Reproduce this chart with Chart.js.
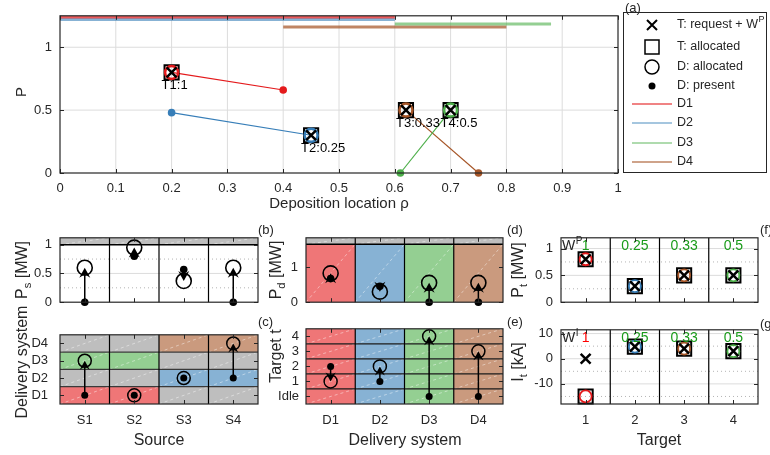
<!DOCTYPE html>
<html>
<head>
<meta charset="utf-8">
<script src="https://cdn.jsdelivr.net/npm/chart.js@4"></script>
<style>
body { margin: 0; background: #fff; }
#fig { position: relative; width: 770px; height: 455px; overflow: hidden; background: #fff;
       font-family: "Liberation Sans", Arial, sans-serif; color: #262626; }
#fig canvas { position: absolute; }
.lbl { position: absolute; white-space: nowrap; line-height: 1; }
.rot { transform: translate(-50%, -50%) rotate(-90deg); }
.ctr { transform: translate(-50%, -50%); }
.lft { transform: translate(0, -50%); }
.lbl sub { font-size: 0.7em; vertical-align: -0.4em; line-height: 0; }
</style>
</head>
<body>
<div id="fig"></div>
<script>
// ---- data ----
const deliveryNames = ['D1', 'D2', 'D3', 'D4'];
const sourceNames = ['S1', 'S2', 'S3', 'S4'];
const targetNames = ['T1', 'T2', 'T3', 'T4'];
const targetNumbers = ['1', '2', '3', '4'];
const targetAxisLabels = ['Idle', '1', '2', '3', '4'];
const targetWeightP = ['1', '0.25', '0.33', '0.5'];
const targetWeightI = ['1', '0.25', '0.33', '0.5'];

// (a) power vs deposition location
const rhoTicks = [0, 0.1, 0.2, 0.3, 0.4, 0.5, 0.6, 0.7, 0.8, 0.9, 1];
const pTicksA = [0, 0.5, 1];
const targetRho = [0.2, 0.45, 0.62, 0.7];
const deliveryRho = [0.4, 0.2, 0.61, 0.75];
const deliveryP = [0.66, 0.48, 0, 0];
const deliveryTarget = [1, 2, 4, 3];          // target allocated to each delivery system
const reachFrom = [0, 0, 0.6, 0.4];
const reachTo = [0.6, 0.6, 0.88, 0.8];
const reachLevel = [1.24, 1.22, 1.185, 1.16];

// (b) (c) sources
const sourceLinks = [[1, 3], [1, 3], [2, 4], [2, 4]];
const sourcePowerNow = [0, 0.8, 0.57, 0];
const sourcePowerAlloc = [0.6, 0.95, 0.37, 0.6];
const sourceDeliveryNow = [1, 1, 2, 2];
const sourceDeliveryAlloc = [3, 1, 2, 4];
const sourcePowerLimit = 1;

// (d) (e) delivery systems
const deliveryPowerNow = [0.67, 0.45, 0, 0];
const deliveryPowerAlloc = [0.82, 0.3, 0.55, 0.55];
const deliveryTargetNow = [2, 1, 0, 0];
const deliveryPowerLimit = 1.65;

// (f) (g) targets
const targetPowerRequest = [0.8, 0.3, 0.5, 0.5];
const targetPowerAlloc = [0.8, 0.3, 0.5, 0.5];
const targetCurrentRequest = [0, 4.8, 4, 3];
const targetCurrentAlloc = [-15, 4.8, 4, 3];

// ---- styles ----
const FONT = '"Liberation Sans", Arial, sans-serif';
const INK = '#262626';
const lineCol = ['#e41a1c', '#377eb8', '#4daf4a', '#a65628'];
const fillCol = ['#ef7677', '#87b2d4', '#94cf92', '#ca9a7e'];
const reachCol = ['rgba(228,26,28,0.72)', 'rgba(55,126,184,0.6)', 'rgba(77,175,74,0.6)', 'rgba(166,86,40,0.72)'];
const GREY = '#bebebe';
const GRID = '#dcdcdc';
const MINOR = '#b4b4b4';
const GREEN = '#1a9c1a';
const RED = '#ff0000';

Chart.defaults.font.family = FONT;
Chart.defaults.font.size = 13;
Chart.defaults.color = INK;

const fig = document.getElementById('fig');
const cats = [1, 2, 3, 4];
const targetColor = targetNames.map((t, i) => lineCol[deliveryTarget.indexOf(i + 1)]);

function pts(xs, ys) { return xs.map((x, i) => ({x: x, y: ys[i]})); }

function markers(data, style, r, bw, color, fill) {
    return {
        data: data, showLine: false, clip: false,
        pointStyle: style, pointRadius: r, pointHoverRadius: r,
        pointBorderWidth: bw, pointBorderColor: color,
        pointBackgroundColor: fill || 'rgba(0,0,0,0)'
    };
}

function lin(min, max, ticks, labels, pad, show) {
    return {
        type: 'linear', min: min, max: max,
        grid: {display: false, drawTicks: false, tickLength: 0}, border: {display: false},
        afterBuildTicks: s => { s.ticks = ticks.map(v => ({value: v})); },
        ticks: {
            display: show !== false, padding: pad, color: INK, font: {size: 13},
            autoSkip: false, maxRotation: 0,
            callback: (v, i) => labels[i]
        }
    };
}

// ---- drawing helpers ----
function hline(c, v, color, w, dash) {
    const ctx = c.ctx, a = c.chartArea, Y = c.scales.y.getPixelForValue(v);
    ctx.save(); ctx.strokeStyle = color; ctx.lineWidth = w; ctx.setLineDash(dash || []);
    ctx.beginPath(); ctx.moveTo(a.left, Y); ctx.lineTo(a.right, Y); ctx.stroke(); ctx.restore();
}
function vline(c, v, color, w, dash) {
    const ctx = c.ctx, a = c.chartArea, X = c.scales.x.getPixelForValue(v);
    ctx.save(); ctx.strokeStyle = color; ctx.lineWidth = w; ctx.setLineDash(dash || []);
    ctx.beginPath(); ctx.moveTo(X, a.top); ctx.lineTo(X, a.bottom); ctx.stroke(); ctx.restore();
}
function cell(c, x0, x1, y0, y1, color) {
    const ctx = c.ctx, a = c.chartArea, sx = c.scales.x, sy = c.scales.y;
    const l = Math.max(a.left, sx.getPixelForValue(x0)), r = Math.min(a.right, sx.getPixelForValue(x1));
    const b = Math.min(a.bottom, sy.getPixelForValue(y0)), t = Math.max(a.top, sy.getPixelForValue(y1));
    ctx.save();
    ctx.fillStyle = color; ctx.fillRect(l, t, r - l, b - t);
    ctx.strokeStyle = 'rgba(255,255,255,0.55)'; ctx.lineWidth = 0.8; ctx.setLineDash([3, 3]);
    ctx.beginPath(); ctx.moveTo(l, b); ctx.lineTo(r, t); ctx.stroke();
    ctx.restore();
}
function arrows(c, from, to, hw, len) {
    const ctx = c.ctx, sx = c.scales.x, sy = c.scales.y;
    ctx.save(); ctx.strokeStyle = '#000'; ctx.fillStyle = '#000'; ctx.lineWidth = 1.5;
    cats.forEach((k, i) => {
        if (from[i] === to[i]) return;
        const X = sx.getPixelForValue(k), Y0 = sy.getPixelForValue(from[i]), Y1 = sy.getPixelForValue(to[i]);
        const d = Math.sign(Y1 - Y0);
        ctx.beginPath(); ctx.moveTo(X, Y0); ctx.lineTo(X, Y1 - d * len * 0.6); ctx.stroke();
        ctx.beginPath();
        ctx.moveTo(X, Y1);
        ctx.lineTo(X - hw, Y1 - d * len);
        ctx.lineTo(X, Y1 - d * len * 0.65);
        ctx.lineTo(X + hw, Y1 - d * len);
        ctx.closePath(); ctx.fill();
    });
    ctx.restore();
}
function weightText(c, sym, weights, colors) {
    const ctx = c.ctx, a = c.chartArea;
    const y = a.top + 8;
    ctx.save(); ctx.textBaseline = 'middle';
    ctx.font = '14px ' + FONT; ctx.fillStyle = INK; ctx.textAlign = 'left';
    ctx.fillText('W', a.left + 1, y);
    const w = ctx.measureText('W').width;
    ctx.font = '10px ' + FONT; ctx.fillText(sym, a.left + 1.5 + w, y - 5);
    ctx.font = '14px ' + FONT; ctx.textAlign = 'center';
    weights.forEach((t, i) => { ctx.fillStyle = colors[i]; ctx.fillText(t, c.scales.x.getPixelForValue(i + 1), y); });
    ctx.restore();
}

const framePlugin = {
    id: 'frame',
    afterDraw(chart) {
        const ctx = chart.ctx, a = chart.chartArea, sx = chart.scales.x, sy = chart.scales.y;
        ctx.save(); ctx.strokeStyle = INK; ctx.lineWidth = 1;
        ctx.beginPath();
        sx.ticks.forEach(t => {
            const X = Math.round(sx.getPixelForValue(t.value)) + 0.5;
            ctx.moveTo(X, a.bottom); ctx.lineTo(X, a.bottom - 4);
            ctx.moveTo(X, a.top); ctx.lineTo(X, a.top + 4);
        });
        sy.ticks.forEach(t => {
            const Y = Math.round(sy.getPixelForValue(t.value)) + 0.5;
            ctx.moveTo(a.left, Y); ctx.lineTo(a.left + 4, Y);
            ctx.moveTo(a.right, Y); ctx.lineTo(a.right - 4, Y);
        });
        ctx.stroke();
        ctx.lineWidth = 1.2;
        ctx.strokeRect(a.left, a.top, a.right - a.left, a.bottom - a.top);
        ctx.restore();
    }
};

function makeChart(box, m, datasets, xScale, yScale, deco) {
    const cv = document.createElement('canvas');
    const W = box.w + m.l + m.r, H = box.h + m.t + m.b;
    cv.width = W; cv.height = H;
    Object.assign(cv.style, {left: (box.l - m.l) + 'px', top: (box.t - m.t) + 'px', width: W + 'px', height: H + 'px'});
    fig.appendChild(cv);
    xScale.afterFit = s => { s.height = m.b; };
    yScale.afterFit = s => { s.width = m.l; };
    return new Chart(cv, {
        type: 'scatter',
        data: {datasets: datasets},
        options: {
            responsive: false, animation: false, devicePixelRatio: 1, events: [],
            layout: {padding: {left: 0, top: m.t, right: m.r, bottom: 0}, autoPadding: false},
            plugins: {legend: {display: false}, tooltip: {enabled: false}},
            scales: {x: xScale, y: yScale}
        },
        plugins: [{
            id: 'deco',
            beforeDatasetsDraw(c) { if (deco.before) deco.before(c); },
            afterDatasetsDraw(c) { if (deco.after) deco.after(c); }
        }, framePlugin]
    });
}

function label(html, x, y, cls, size) {
    const d = document.createElement('div');
    d.className = 'lbl ' + cls;
    d.innerHTML = html;
    d.style.left = x + 'px'; d.style.top = y + 'px'; d.style.fontSize = size + 'px';
    fig.appendChild(d);
}

// ---- (a) ----
const dsA = [
    markers(pts(targetRho, targetPowerRequest), 'crossRot', 7, 2.5, '#000'),
    markers(deliveryTarget.map(t => ({x: targetRho[t - 1], y: targetPowerAlloc[t - 1]})), 'circle', 6.5, 2.5, lineCol),
    markers(pts(targetRho, targetPowerAlloc), 'rect', 10, 2, '#000')
];
deliveryNames.forEach((n, i) => {
    const t = deliveryTarget[i] - 1;
    dsA.push({
        data: [{x: deliveryRho[i], y: deliveryP[i]}, {x: targetRho[t], y: targetPowerAlloc[t]}],
        showLine: true, clip: false, borderColor: lineCol[i], borderWidth: 1.2,
        pointRadius: [3.8, 0], pointHoverRadius: [3.8, 0], pointBackgroundColor: lineCol[i], pointBorderWidth: 0
    });
});
deliveryNames.forEach((n, i) => {
    dsA.push({
        data: [{x: reachFrom[i], y: reachLevel[i]}, {x: reachTo[i], y: reachLevel[i]}],
        showLine: true, borderColor: reachCol[i], borderWidth: 3, pointRadius: 0, pointHoverRadius: 0
    });
});

function drawLegendA(ctx) {
    const L = 623.5, T = 12.5, W = 143, H = 160;
    const mx = 652, tx = 677;
    const rows = [25, 47, 67, 86, 104, 123, 143, 162];
    ctx.save();
    ctx.fillStyle = '#fff'; ctx.fillRect(L, T, W, H);
    ctx.strokeStyle = INK; ctx.lineWidth = 1; ctx.strokeRect(L, T, W, H);
    ctx.strokeStyle = '#000'; ctx.fillStyle = '#000';
    ctx.lineWidth = 2;
    ctx.beginPath();
    ctx.moveTo(mx - 5, rows[0] - 5); ctx.lineTo(mx + 5, rows[0] + 5);
    ctx.moveTo(mx + 5, rows[0] - 5); ctx.lineTo(mx - 5, rows[0] + 5);
    ctx.stroke();
    ctx.lineWidth = 1.5;
    ctx.strokeRect(mx - 7, rows[1] - 7, 14, 14);
    ctx.beginPath(); ctx.arc(mx, rows[2], 7, 0, 2 * Math.PI); ctx.stroke();
    ctx.beginPath(); ctx.arc(mx, rows[3], 3.5, 0, 2 * Math.PI); ctx.fill();
    deliveryNames.forEach((n, i) => {
        ctx.strokeStyle = reachCol[i]; ctx.lineWidth = 1.5;
        ctx.beginPath(); ctx.moveTo(632, rows[4 + i]); ctx.lineTo(672, rows[4 + i]); ctx.stroke();
    });
    ctx.fillStyle = INK; ctx.font = '12.5px ' + FONT; ctx.textBaseline = 'middle'; ctx.textAlign = 'left';
    const texts = ['T: request + W', 'T: allocated', 'D: allocated', 'D: present'].concat(deliveryNames);
    texts.forEach((t, i) => ctx.fillText(t, tx, rows[i]));
    const w = ctx.measureText(texts[0]).width;
    ctx.font = '9px ' + FONT; ctx.fillText('P', tx + w + 0.5, rows[0] - 5);
    ctx.restore();
}

makeChart({l: 60, t: 11, w: 558, h: 162}, {l: 60, t: 11, r: 152, b: 30}, dsA,
    lin(0, 1, rhoTicks, rhoTicks.map(String), 8),
    lin(0, 1.25, pTicksA, pTicksA.map(String), 8),
    {
        before: c => {
            rhoTicks.slice(1, -1).forEach(v => vline(c, v, GRID, 1));
            [0.5, 1].forEach(v => hline(c, v, GRID, 1));
        },
        after: c => {
            const ctx = c.ctx;
            ctx.save(); ctx.font = '13px ' + FONT; ctx.fillStyle = '#000';
            ctx.textAlign = 'left'; ctx.textBaseline = 'top';
            targetNames.forEach((t, i) => {
                const X = c.scales.x.getPixelForValue(targetRho[i]), Y = c.scales.y.getPixelForValue(targetPowerAlloc[i]);
                ctx.fillText(t + ':' + targetWeightP[i], X - 10, Y + 7);
            });
            ctx.restore();
            drawLegendA(ctx);
        }
    });

// ---- (b) ----
makeChart({l: 60, t: 228, w: 198, h: 84}, {l: 60, t: 6, r: 6, b: 6}, [
    markers(pts(cats, sourcePowerNow), 'circle', 3.8, 0, '#000', '#000'),
    markers(pts(cats, sourcePowerAlloc), 'circle', 7.5, 1.6, '#000')
],
    lin(0.5, 4.5, cats, sourceNames, 8, false),
    lin(0, 1.12, [0, 0.5, 1], ['0', '0.5', '1'], 8),
    {
        before: c => {
            hline(c, 0.5, GRID, 1);
            [0.25, 0.75].forEach(v => hline(c, v, MINOR, 1, [1, 3]));
            cats.forEach(k => cell(c, k - 0.5, k + 0.5, sourcePowerLimit, c.scales.y.max, GREY));
            hline(c, sourcePowerLimit, '#000', 1.5);
            [1.5, 2.5, 3.5].forEach(v => vline(c, v, '#000', 1.2));
        },
        after: c => arrows(c, sourcePowerNow, sourcePowerAlloc, 5.5, 10)
    });

// ---- (c) ----
makeChart({l: 60, t: 321, w: 198, h: 83}, {l: 60, t: 6, r: 6, b: 30}, [
    markers(pts(cats, sourceDeliveryNow), 'circle', 3.5, 0, '#000', '#000'),
    markers(pts(cats, sourceDeliveryAlloc), 'circle', 6.5, 1.5, '#000')
],
    lin(0.5, 4.5, cats, sourceNames, 9),
    lin(0.5, 4.5, cats, deliveryNames, 12),
    {
        before: c => {
            cats.forEach(s => cats.forEach(d => {
                cell(c, s - 0.5, s + 0.5, d - 0.5, d + 0.5, sourceLinks[s - 1].indexOf(d) >= 0 ? fillCol[d - 1] : GREY);
            }));
            [1.5, 2.5, 3.5].forEach(v => hline(c, v, '#3a3a3a', 1.2));
            [1.5, 2.5, 3.5].forEach(v => vline(c, v, '#000', 1.2));
        },
        after: c => arrows(c, sourceDeliveryNow, sourceDeliveryAlloc, 5, 9)
    });

// ---- (d) ----
makeChart({l: 306, t: 228, w: 197, h: 84}, {l: 45, t: 6, r: 6, b: 6}, [
    markers(pts(cats, deliveryPowerNow), 'circle', 3.8, 0, '#000', '#000'),
    markers(pts(cats, deliveryPowerAlloc), 'circle', 7.5, 1.6, '#000')
],
    lin(0.5, 4.5, cats, deliveryNames, 8, false),
    lin(0, 1.83, [0, 1], ['0', '1'], 8),
    {
        before: c => {
            cats.forEach(k => {
                cell(c, k - 0.5, k + 0.5, 0, deliveryPowerLimit, fillCol[k - 1]);
                cell(c, k - 0.5, k + 0.5, deliveryPowerLimit, c.scales.y.max, GREY);
            });
            hline(c, deliveryPowerLimit, '#000', 1.5);
            [1.5, 2.5, 3.5].forEach(v => vline(c, v, '#000', 1.2));
        },
        after: c => arrows(c, deliveryPowerNow, deliveryPowerAlloc, 5.5, 10)
    });

// ---- (e) ----
makeChart({l: 306, t: 320, w: 197, h: 84}, {l: 45, t: 6, r: 6, b: 30}, [
    markers(pts(cats, deliveryTargetNow), 'circle', 3.5, 0, '#000', '#000'),
    markers(pts(cats, deliveryTarget), 'circle', 6.5, 1.5, '#000')
],
    lin(0.5, 4.5, cats, deliveryNames, 9),
    lin(-0.5, 4.5, [0, 1, 2, 3, 4], targetAxisLabels, 7),
    {
        before: c => {
            cats.forEach(k => [0, 1, 2, 3, 4].forEach(t => cell(c, k - 0.5, k + 0.5, t - 0.5, t + 0.5, fillCol[k - 1])));
            [0.5, 1.5, 2.5, 3.5].forEach(v => hline(c, v, '#1a1a1a', 1.2));
            [1.5, 2.5, 3.5].forEach(v => vline(c, v, '#000', 1.2));
        },
        after: c => arrows(c, deliveryTargetNow, deliveryTarget, 5, 9)
    });

// ---- (f) ----
makeChart({l: 561, t: 228, w: 197, h: 84}, {l: 45, t: 6, r: 6, b: 6}, [
    markers(pts(cats, targetPowerRequest), 'crossRot', 7, 2.5, '#000'),
    markers(pts(cats, targetPowerAlloc), 'circle', 6, 1.8, targetColor),
    markers(pts(cats, targetPowerAlloc), 'rect', 10, 2, '#000')
],
    lin(0.5, 4.5, cats, targetNumbers, 8, false),
    lin(0, 1.2, [0, 0.5, 1], ['0', '0.5', '1'], 8),
    {
        before: c => {
            [0.5, 1].forEach(v => hline(c, v, GRID, 1));
            [0.25, 0.75].forEach(v => hline(c, v, MINOR, 1, [1, 3]));
            [1.5, 2.5, 3.5].forEach(v => vline(c, v, '#000', 1.2));
        },
        after: c => weightText(c, 'P', targetWeightP, [GREEN, GREEN, GREEN, GREEN])
    });

// ---- (g) ----
makeChart({l: 561, t: 320, w: 197, h: 84}, {l: 45, t: 6, r: 6, b: 30}, [
    markers(pts(cats, targetCurrentRequest), 'crossRot', 7, 2.5, '#000'),
    markers(pts(cats, targetCurrentAlloc), 'circle', 6, 1.8, targetColor),
    markers(pts(cats, targetCurrentAlloc), 'rect', 10, 2, '#000')
],
    lin(0.5, 4.5, cats, targetNumbers, 9),
    lin(-18, 11.5, [-10, 0, 10], ['-10', '0', '10'], 8),
    {
        before: c => {
            [-10, 0, 10].forEach(v => hline(c, v, GRID, 1));
            [-15, -5, 5].forEach(v => hline(c, v, MINOR, 1, [1, 3]));
            [1.5, 2.5, 3.5].forEach(v => vline(c, v, '#000', 1.2));
        },
        after: c => weightText(c, 'I', targetWeightI, [RED, GREEN, GREEN, GREEN])
    });

// ---- titles and panel labels ----
label('P', 20, 92, 'rot', 15);
label('Deposition location &rho;', 339, 202, 'ctr', 15);
label('(a)', 625, 7, 'lft', 13);
label('P<sub>s</sub> [MW]', 22, 270, 'rot', 16);
label('Delivery system', 22, 362, 'rot', 16);
label('Source', 159, 440, 'ctr', 16);
label('(b)', 258, 229, 'lft', 13);
label('(c)', 258, 321, 'lft', 13);
label('P<sub>d</sub> [MW]', 276, 270, 'rot', 16);
label('Target t', 276, 356, 'rot', 16);
label('Delivery system', 405, 440, 'ctr', 16);
label('(d)', 507, 229, 'lft', 13);
label('(e)', 507, 321, 'lft', 13);
label('P<sub>t</sub> [MW]', 518, 270, 'rot', 16);
label('I<sub>t</sub> [kA]', 518, 362, 'rot', 16);
label('Target', 659, 440, 'ctr', 16);
label('(f)', 760, 229, 'lft', 13);
label('(g)', 760, 323, 'lft', 13);
</script>
</body>
</html>
